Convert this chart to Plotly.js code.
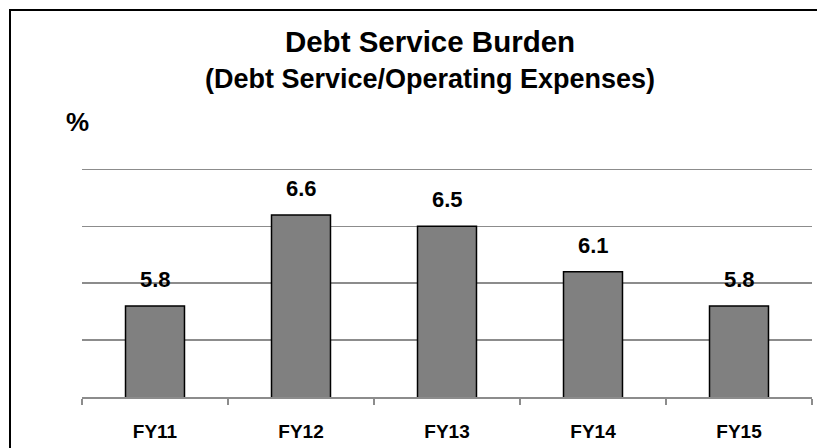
<!DOCTYPE html>
<html>
<head>
<meta charset="utf-8">
<script src="https://cdn.plot.ly/plotly-3.0.1.min.js"></script>
<style>
  html, body { margin: 0; padding: 0; background: #ffffff; }
  #wrap { position: relative; width: 824px; height: 448px; overflow: hidden; }
  #chart { position: absolute; left: 0; top: 0; width: 824px; height: 448px; }
  #frame { position: absolute; left: 9px; top: 9px; width: 806px; height: 460px;
           border-left: 2px solid #000; border-top: 2px solid #000; pointer-events: none; }
</style>
</head>
<body>
<div id="wrap">
  <div id="chart"></div>
  <div id="frame"></div>
</div>
<script>
const categories = ["FY11", "FY12", "FY13", "FY14", "FY15"];
const values = [5.8, 6.6, 6.5, 6.1, 5.8];
const valueLabels = ["5.8", "6.6", "6.5", "6.1", "5.8"];
const titleLines = ["Debt Service Burden", "(Debt Service/Operating Expenses)"];
const yUnit = "%";
const gridValues = [5, 5.5, 6, 6.5, 7];

const FONT = "Liberation Sans, Arial, sans-serif";

const trace = {
  type: "bar",
  x: categories,
  y: values,
  marker: { color: "#808080", line: { color: "#000000", width: 1.5 } },
  hoverinfo: "none"
};

const annotations = categories.map((c, i) => ({
  x: c, y: values[i], xref: "x", yref: "y",
  text: valueLabels[i], showarrow: false,
  yanchor: "bottom", yshift: 12,
  font: { family: FONT, size: 22, color: "#000", weight: "bold" }
}));

annotations.push({
  xref: "paper", yref: "paper", x: -0.0055, y: 1.19,
  text: yUnit, showarrow: false, xanchor: "center", yanchor: "middle",
  font: { family: FONT, size: 26, color: "#000", weight: "bold" }
});

const layout = {
  width: 824, height: 448,
  margin: { l: 82, r: 12, t: 166, b: 51 },
  paper_bgcolor: "#ffffff", plot_bgcolor: "#ffffff",
  showlegend: false,
  bargap: 0.596,
  title: {
    text: '<span style="font-size:29.5px">' + titleLines[0] + '</span><br>' +
          '<span style="font-size:27px">' + titleLines[1] + '</span>',
    x: 430 / 824, xanchor: "center",
    y: 1 - 52 / 448, yanchor: "top",
    font: { family: FONT, size: 28, color: "#000", weight: "bold" }
  },
  xaxis: {
    type: "category",
    showline: true, linecolor: "#8c8c8c", linewidth: 2,
    ticks: "outside", ticklen: 6, tickcolor: "#8c8c8c", tickwidth: 1.5,
    tickson: "boundaries",
    showgrid: false,
    tickfont: { family: FONT, size: 19, color: "#000", weight: "bold" },
    ticklabelstandoff: 16
  },
  yaxis: {
    range: [5, 7.03], tickvals: gridValues,
    showticklabels: false, ticks: "",
    showgrid: true, gridcolor: "#8c8c8c", gridwidth: 1.5,
    zeroline: false, showline: false
  },
  annotations: annotations
};

Plotly.newPlot("chart", [trace], layout, { displayModeBar: false, staticPlot: true });
</script>
</body>
</html>
